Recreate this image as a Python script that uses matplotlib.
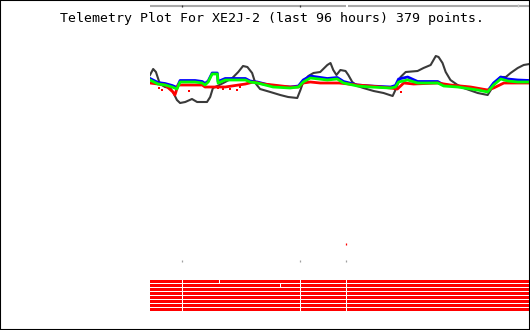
#!/usr/bin/env python3
"""Telemetry plot for XE2J-2: four analog channels plus an 8-bit status strip."""

import matplotlib
matplotlib.use("Agg")
import matplotlib.pyplot as plt
from matplotlib.patches import Rectangle

# -------------------------------------------------
# Data (hours since start of the 96 h window)
# -------------------------------------------------
black_hours = [0.0, 0.8, 1.5, 2.5, 3.8, 5.1, 5.8, 6.8, 7.6, 8.9, 10.6, 11.9, 13.2,
               14.4, 15.2, 15.9, 17.0, 19.0, 20.8, 22.3, 23.5, 24.6, 25.8, 26.6,
               27.8, 30.4, 32.9, 34.9, 37.2, 38.0, 38.7, 40.0, 41.3, 43.0, 44.8,
               45.6, 46.3, 47.1, 48.1, 49.4, 50.1, 51.1, 52.4, 53.9, 56.5, 59.0,
               61.3, 62.0, 63.3, 64.6, 67.6, 69.1, 70.9, 72.2, 72.9, 73.9, 74.7,
               75.9, 77.7, 79.2, 82.8, 85.3, 86.1, 87.3, 88.6, 89.9, 91.1, 92.9,
               94.4, 95.9]
black_level = [35, 41, 38, 26, 23, 22, 18, 10, 7, 8, 11, 8, 8,
               8, 13, 22, 24, 28, 32, 38, 44, 43, 37, 27,
               21, 18, 15, 13, 12, 20, 28, 34, 37, 38, 45,
               47, 40, 35, 40, 39, 35, 28, 24, 22, 19, 17,
               14, 20, 33, 38, 39, 42, 45, 54, 53, 47, 38,
               30, 25, 22, 17, 15, 20, 28, 33, 33, 37, 42,
               45, 46]

green_hours = [0.0, 2.0, 3.8, 5.6, 6.8, 7.6, 11.4, 13.2, 13.9, 14.7, 15.7, 17.0,
               17.2, 19.0, 24.1, 25.3, 27.1, 31.1, 35.4, 37.5, 38.7, 40.5, 44.8,
               47.3, 48.9, 52.4, 55.7, 60.8, 62.0, 62.8, 65.1, 67.6, 72.7, 74.2,
               77.7, 82.8, 85.3, 86.8, 88.6, 90.4, 92.9, 95.9]
green_level = [30, 26, 25, 23, 21, 28, 28, 27, 25, 28, 36, 36,
               27, 30, 30, 28, 27, 23, 22, 23, 28, 32, 30,
               31, 27, 24, 23, 22, 23, 28, 30, 27, 27, 24,
               23, 20, 18, 25, 31, 29, 28, 28]
blue_level = [31.5, 27.5, 26.5, 24.5, 22.5, 29.5, 29.5, 28.5, 26.5, 29, 37, 37,
              28.5, 31.5, 31.5, 29, 28, 24, 23, 24, 30, 34, 31.5,
              32.5, 28.5, 25, 24, 23, 24.5, 31, 33, 28.5, 28.5, 25,
              24, 21, 19, 27, 33, 31, 30, 29.5]

red_hours = [0.0, 2.0, 3.8, 5.8, 6.3, 7.1, 13.2, 13.9, 16.5, 19.0, 24.1, 26.1,
             28.6, 31.1, 35.4, 37.5, 38.7, 40.5, 43.0, 47.8, 52.4, 55.7, 60.8,
             62.5, 64.1, 66.6, 72.7, 75.9, 81.0, 85.3, 86.8, 89.4, 95.9]
red_level = [27, 26, 25, 18, 15, 25, 25, 23, 23, 23, 26, 28,
             26, 25, 23, 23, 27, 28, 27, 27, 25, 24, 22,
             21, 27, 26, 27, 25, 23, 20, 22, 27, 27]
red_spike_hours = [2.3, 3.0, 6.1, 9.9, 17.2, 18.5, 20.3, 22.0, 22.8, 63.3]
red_spike_level = [22, 20, 17, 19, 22, 21, 21, 20, 23, 18]

# status strip: data gaps across all 8 bits, single-bit dropouts per row
gap_hours = [8.1, 38.0, 49.6]
bit_dropouts = {0: [17.5], 1: [32.9]}
n_bits = 8
event_hours = [8.1, 38.0, 49.6]
alert_hours = [49.6]
span_hours = 96.0

TITLE = "Telemetry Plot For XE2J-2 (last 96 hours) 379 points."

W, H = 530, 330


def fig_box(x0, y0, x1, y1):
    """pixel box (top-left origin) -> figure fraction rect"""
    return [x0 / W, 1 - y1 / H, (x1 - x0) / W, (y1 - y0) / H]


def bare(ax):
    ax.set_axis_off()
    ax.set_xlim(0, span_hours)


def segments(cuts, width=0.25):
    segs, start = [], 0.0
    for c in sorted(cuts):
        segs.append((start, c - start))
        start = c + width
    segs.append((start, span_hours - start))
    return segs


def main():
    fig = plt.figure(figsize=(W / 100, H / 100), dpi=100)
    fig.patch.set_facecolor("white")

    # analog channels
    ax = fig.add_axes(fig_box(150, 40, 530, 110))
    bare(ax)
    ax.set_ylim(0, 70)
    ax.plot(black_hours, black_level, color="#3a3a3a", lw=1.5)
    ax.plot(green_hours, blue_level, color="#0000ff", lw=2.0)
    ax.plot(red_hours, red_level, color="#ff0000", lw=2.0)
    ax.plot(green_hours, green_level, color="#00ff00", lw=2.0)
    ax.plot(red_spike_hours, red_spike_level, ls="none", marker="s", ms=1.5,
            color="#ff0000", mew=0)

    # status strip (event marks + bit rows); 1 unit = 4 px
    sx = fig.add_axes(fig_box(150, 240, 530, 312))
    bare(sx)
    sx.set_ylim(18, 0)
    for i in range(n_bits):
        cuts = gap_hours + bit_dropouts.get(i, [])
        sx.broken_barh(segments(cuts), (10 + i, 0.75), facecolors="#ff0000")
    sx.vlines(event_hours, 4.9, 5.4, color="#a0a0a0", lw=0.9)
    sx.vlines(alert_hours, 0.8, 1.3, color="#ff0000", lw=0.9)

    # top time bar
    tx = fig.add_axes(fig_box(150, 1, 530, 11))
    bare(tx)
    tx.set_ylim(10, 0)
    for start, length in segments([gap_hours[2]], width=0.3):
        tx.hlines(5.0, start, start + length, color="#a8a8a8", lw=1.5)
    tx.vlines(gap_hours[:2], 4.0, 6.0, color="#303030", lw=0.9)
    tx.vlines([92.9], 3.0, 6.0, color="#c8c8c8", lw=0.9)

    fig.text(272 / W, 1 - 22 / H, TITLE, ha="center", va="baseline",
             family="DejaVu Sans Mono", fontsize=9.5, color="black")

    fig.add_artist(Rectangle((0, 0), 1, 1, transform=fig.transFigure,
                             fill=False, edgecolor="black", lw=1.5))

    fig.savefig("out.png", dpi=100, facecolor="white")
    plt.close(fig)


if __name__ == "__main__":
    main()
